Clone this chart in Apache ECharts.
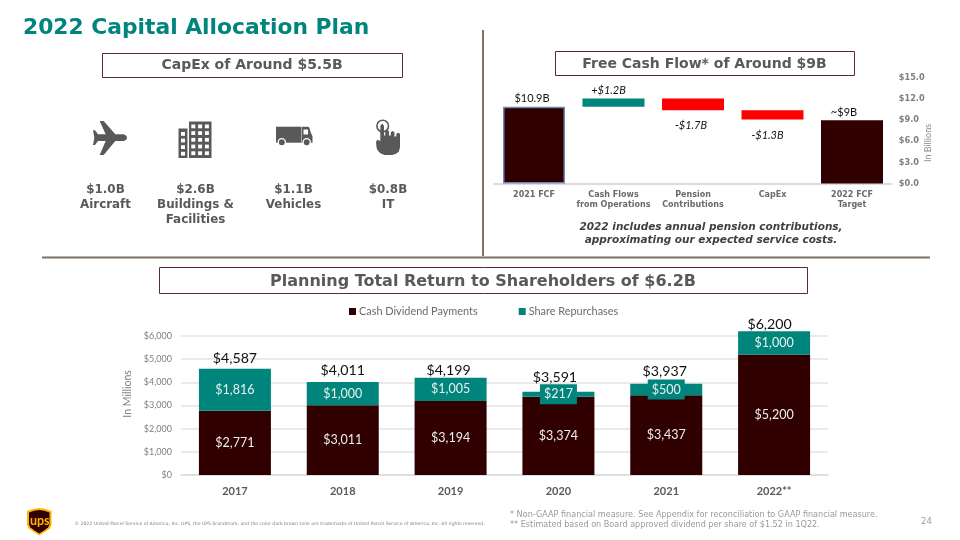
<!DOCTYPE html>
<html>
<head>
<meta charset="utf-8">
<title>2022 Capital Allocation Plan</title>
<script src="https://cdn.jsdelivr.net/npm/echarts@6/dist/echarts.min.js"></script>
<style>
  html, body { margin: 0; padding: 0; background: #fff; }
  #main { width: 960px; height: 540px; }
</style>
</head>
<body>
<div id="main"></div>
<script>
// Free cash flow waterfall
const fcfCategories = ["2021 FCF", "Cash Flows\nfrom Operations", "Pension\nContributions", "CapEx", "2022 FCF\nTarget"];
const fcfBase = [0, 10.9, 10.4, 9.1, 0];
const fcfValues = [10.9, 1.2, 1.7, 1.3, 9];
const fcfLabels = ["$10.9B", "+$1.2B", "-$1.7B", "-$1.3B", "~$9B"];

// Shareholder returns
const years = ["2017", "2018", "2019", "2020", "2021", "2022**"];
const dividends = [2771, 3011, 3194, 3374, 3437, 5200];
const repurchases = [1816, 1000, 1005, 217, 500, 1000];
const totals = [4587, 4011, 4199, 3591, 3937, 6200];

// CapEx split
const capexAmounts = ["$1.0B", "$2.6B", "$1.1B", "$0.8B"];
const capexNames = ["Aircraft", "Buildings &\nFacilities", "Vehicles", "IT"];

const BROWN = "#300000";
const TEAL = "#00857d";
const RED = "#ff0000";
const GREY = "#595959";
const VERDANA = '"DejaVu Sans", Verdana, sans-serif';
const CALIBRI = 'Lato, "Open Sans", sans-serif';

function money(v) {
  return "$" + v.toLocaleString("en-US");
}

// small helpers for the slide furniture
function text(x, y, str, size, color, style, rotation) {
  return {
    type: "text",
    x: x,
    y: y,
    rotation: rotation || 0,
    silent: true,
    style: Object.assign({
      text: str,
      fontFamily: VERDANA,
      fontSize: size,
      fill: color,
      align: "left",
      verticalAlign: "middle"
    }, style)
  };
}
function bold(x, y, str, size, color, align) {
  return text(x, y, str, size, color, { fontWeight: "bold", align: align || "center" });
}
function rect(x, y, w, h, fill) {
  return { type: "rect", silent: true, shape: { x: x, y: y, width: w, height: h }, style: { fill: fill } };
}
function box(x, y, w, h) {
  return {
    type: "rect",
    silent: true,
    shape: { x: x + 0.5, y: y + 0.5, width: w, height: h },
    style: { fill: "#fff", stroke: "#5c2a2a", lineWidth: 1 }
  };
}
// outline given in any units, fitted to the target box
function poly(pts, x, y, w, h, fill) {
  const xs = pts.map(p => p[0]);
  const ys = pts.map(p => p[1]);
  const x0 = Math.min(...xs), y0 = Math.min(...ys);
  const sx = w / (Math.max(...xs) - x0), sy = h / (Math.max(...ys) - y0);
  return {
    type: "polygon",
    silent: true,
    shape: { points: pts.map(p => [x + (p[0] - x0) * sx, y + (p[1] - y0) * sy]) },
    style: { fill: fill }
  };
}
function circle(cx, cy, r, fill, stroke, lw) {
  return {
    type: "circle",
    silent: true,
    shape: { cx: cx, cy: cy, r: r },
    style: { fill: fill, stroke: stroke, lineWidth: lw || 0 }
  };
}

// icons
const planeOutline = [[200,113],[198,107],[190,103],[165,103],[130,63],[118,63],[136,103],[113,103],[104,91],[98,91],[102,113],[98,135],[104,135],[113,123],[136,123],[118,165],[130,165],[165,123],[190,123],[198,119]];
const cabOutline = [[0,0],[20,0],[24,2],[26,8],[31,16],[33,18],[33,31],[0,31]];
const handOutline = [[7,4],[10,0],[13,4],[13,22],[15,22],[15,14],[18,12],[21,14],[21,22],[24,22],[24,16],[27,14],[30,16],[30,24],[33,24],[33,19],[36,17],[39,19],[39,44],[37,52],[32,56],[26,58],[14,58],[7,55],[3,50],[1,45],[0,34],[2,30],[7,32]];
const shieldOutline = [[0,6],[12,2],[24,0],[36,2],[48,6],[48,34],[45,41],[36,48],[24,56],[12,48],[3,41],[0,34]];

function buildingIcon() {
  const icon = [rect(178.5, 128.5, 9, 29.5, GREY), rect(189, 121.5, 22.5, 36.5, GREY)];
  for (let r = 0; r < 4; r++) {
    icon.push(rect(181, 132 + r * 6.6, 4, 3.8, "#fff"));
  }
  for (let r = 0; r < 5; r++) {
    for (let c = 0; c < 3; c++) {
      icon.push(rect(191.3 + c * 6.8, 124.5 + r * 6.7, 4, 3.8, "#fff"));
    }
  }
  return icon;
}
function truckIcon() {
  return [
    rect(276, 126.7, 25, 16, GREY),
    poly(cabOutline, 301.5, 126.7, 11, 16, GREY),
    rect(303.5, 129.5, 4.5, 5, "#fff"),
    circle(281.8, 142.3, 3.6, GREY, "#fff", 1.3),
    circle(306.7, 142.3, 3.6, GREY, "#fff", 1.3)
  ];
}
function handIcon() {
  return [
    circle(382.7, 126, 5.8, "#fff", GREY, 1.6),
    poly(handOutline, 376, 123.5, 24, 31.5, GREY)
  ];
}
function upsLogo() {
  return [
    poly(shieldOutline, 27, 508, 24.5, 27.5, "#ffb500"),
    poly(shieldOutline, 29, 510, 20.5, 23.5, BROWN),
    text(39.7, 521, "ups", 12.5, "#ffb500", { fontWeight: "bold", align: "center", fontFamily: CALIBRI })
  ];
}

const capexX = [105.5, 195.5, 293.5, 388];
const capexTexts = [];
capexAmounts.forEach((a, i) => {
  capexTexts.push(bold(capexX[i], 190, a, 11.9, GREY));
  capexTexts.push(text(capexX[i], 198, capexNames[i], 11.9, GREY, {
    fontWeight: "bold",
    align: "center",
    verticalAlign: "top",
    lineHeight: 14.5
  }));
});

const slideGraphics = [
  bold(23, 28.5, "2022 Capital Allocation Plan", 21.8, TEAL, "left"),
  // dividers
  rect(482, 30, 2, 226, "#7d7065"),
  rect(42, 256.5, 888, 2, "#7d7065"),
  // section heads
  box(102, 53, 300, 24),
  bold(252, 65.5, "CapEx of Around $5.5B", 14, GREY),
  box(555, 51, 299, 24),
  bold(704.5, 64, "Free Cash Flow* of Around $9B", 14, GREY),
  box(159, 267, 648, 26),
  bold(483, 281.5, "Planning Total Return to Shareholders of $6.2B", 16, GREY),
  // capex
  poly(planeOutline, 93, 121, 34, 34, GREY),
  ...buildingIcon(),
  ...truckIcon(),
  ...handIcon(),
  ...capexTexts,
  // waterfall note
  text(711, 227.5, "2022 includes annual pension contributions,", 10.5, "#404040", { fontWeight: "bold", fontStyle: "italic", align: "center" }),
  text(711, 240, "approximating our expected service costs.", 10.5, "#404040", { fontWeight: "bold", fontStyle: "italic", align: "center" }),
  text(928, 143, "In Billions", 9, "#8c8c8c", { fontFamily: CALIBRI, align: "center" }, Math.PI / 2),
  // footer
  ...upsLogo(),
  text(74.5, 523.5, "\u00a9 2022 United Parcel Service of America, Inc. UPS, the UPS brandmark, and the color dark brown tone are trademarks of United Parcel Service of America, Inc. All rights reserved.", 4.58, "#808080"),
  text(510, 515, "* Non-GAAP financial measure. See Appendix for reconciliation to GAAP financial measure.", 8.1, "#9a9a9a"),
  text(510, 525, "** Estimated based on Board approved dividend per share of $1.52 in 1Q22.", 8.1, "#9a9a9a"),
  text(921, 522, "24", 8.5, "#9a9a9a")
];

// per bar styling of the waterfall
const fcfColors = [BROWN, TEAL, RED, RED, BROWN];
const fcfLabelPos = ["top", "top", "bottom", "bottom", "top"];
const fcfLabelDist = [3, 2, 10, 10, 2];
const fcfLabelShift = [-2, -5, -2, -5, -8];

// the total labels were placed by hand in the slide
const totalLabelShift = [[0, 0], [0, -1.5], [-2, 3.5], [-3.5, -4], [-1.5, -2], [-4.5, 4]];

var myChart = echarts.init(document.getElementById("main"), null, { renderer: "canvas" });

const option = {
  animation: false,
  backgroundColor: "#fff",
  graphic: { elements: slideGraphics },
  legend: {
    data: ["Cash Dividend Payments", "Share Repurchases"],
    left: 349,
    top: 306,
    padding: 0,
    icon: "rect",
    itemWidth: 7,
    itemHeight: 7,
    itemGap: 41,
    textStyle: { fontFamily: CALIBRI, fontSize: 10.9, color: "#6b6b6b", padding: [0, 0, 0, -2] }
  },
  grid: [
    { left: 494.25, width: 397.5, top: 78, height: 105.5 },
    // axis runs to 7000 so the 6200 bar fits, the top gridline is hidden below
    { left: 181, width: 647, top: 312.83, height: 162.17 }
  ],
  xAxis: [
    {
      gridIndex: 0,
      type: "category",
      data: fcfCategories,
      axisTick: { show: false },
      axisLine: { lineStyle: { color: "#dcdcdc", width: 2 } },
      axisLabel: {
        interval: 0,
        margin: 6,
        fontFamily: VERDANA,
        fontWeight: "bold",
        fontSize: 8,
        lineHeight: 10,
        color: "#6a6a6a"
      }
    },
    {
      gridIndex: 1,
      type: "category",
      data: years,
      axisTick: { show: false },
      axisLine: { lineStyle: { color: "#dcdcdc", width: 1.5 } },
      axisLabel: {
        interval: 0,
        margin: 11,
        fontFamily: CALIBRI,
        fontWeight: "bold",
        fontSize: 11,
        color: GREY
      }
    }
  ],
  yAxis: [
    {
      gridIndex: 0,
      type: "value",
      position: "right",
      min: 0,
      max: 15,
      interval: 3,
      axisLine: { show: false },
      axisTick: { show: false },
      splitLine: { show: false },
      axisLabel: {
        margin: 7,
        fontFamily: VERDANA,
        fontWeight: "bold",
        fontSize: 8.2,
        color: "#7f7f7f",
        formatter: v => "$" + v.toFixed(1)
      }
    },
    {
      gridIndex: 1,
      type: "value",
      min: 0,
      max: 7000,
      interval: 1000,
      name: "In Millions",
      nameLocation: "middle",
      nameGap: 48,
      nameTextStyle: { fontFamily: CALIBRI, fontSize: 10.5, color: "#808080" },
      axisLine: { show: false },
      axisTick: { show: false },
      splitLine: {
        showMaxLine: false,
        lineStyle: { color: "#e3e3e3", width: 1.5 }
      },
      axisLabel: {
        showMaxLabel: false,
        margin: 9,
        fontFamily: CALIBRI,
        fontSize: 9,
        color: "#808080",
        formatter: v => money(v)
      }
    }
  ],
  series: [
    // waterfall: a clear base with the visible bar stacked on top
    {
      type: "bar",
      xAxisIndex: 0,
      yAxisIndex: 0,
      stack: "fcf",
      barWidth: 62,
      silent: true,
      itemStyle: { color: "transparent" },
      data: fcfBase
    },
    {
      type: "bar",
      xAxisIndex: 0,
      yAxisIndex: 0,
      stack: "fcf",
      barWidth: 62,
      data: fcfValues.map((v, i) => ({
        value: v,
        itemStyle: i === 0
          ? { color: fcfColors[i], borderColor: "#6f86b5", borderWidth: 1.5 }
          : { color: fcfColors[i] },
        label: {
          show: true,
          position: fcfLabelPos[i],
          distance: fcfLabelDist[i],
          offset: [fcfLabelShift[i], 0],
          formatter: fcfLabels[i],
          fontFamily: CALIBRI,
          fontSize: 11,
          fontStyle: i > 0 && i < 4 ? "italic" : "normal",
          color: "#111"
        }
      }))
    },
    // total returns
    {
      name: "Cash Dividend Payments",
      type: "bar",
      xAxisIndex: 1,
      yAxisIndex: 1,
      stack: "returns",
      barWidth: 72,
      itemStyle: { color: BROWN },
      label: {
        show: true,
        position: "inside",
        fontFamily: CALIBRI,
        fontSize: 12.5,
        color: "#eee",
        formatter: p => money(p.value)
      },
      data: dividends
    },
    {
      name: "Share Repurchases",
      type: "bar",
      xAxisIndex: 1,
      yAxisIndex: 1,
      stack: "returns",
      barWidth: 72,
      itemStyle: { color: TEAL },
      label: {
        show: true,
        position: "inside",
        fontFamily: CALIBRI,
        fontSize: 12.5,
        color: "#eee",
        formatter: p => money(p.value)
      },
      // the two thin segments get a label box so the number still fits
      data: repurchases.map(v => v > 500 ? v : {
        value: v,
        label: { backgroundColor: TEAL, padding: [4, 4, 3, 4] }
      })
    },
    {
      name: "Total",
      type: "line",
      xAxisIndex: 1,
      yAxisIndex: 1,
      symbol: "circle",
      symbolSize: 1,
      showAllSymbol: true,
      itemStyle: { color: "transparent" },
      lineStyle: { width: 0, color: "transparent" },
      z: 5,
      label: {
        show: true,
        position: "top",
        distance: 3,
        fontFamily: CALIBRI,
        fontSize: 14.2,
        color: "#111",
        formatter: p => money(p.value)
      },
      data: totals.map((v, i) => ({ value: v, label: { offset: totalLabelShift[i] } }))
    }
  ]
};
myChart.setOption(option);
</script>
</body>
</html>
